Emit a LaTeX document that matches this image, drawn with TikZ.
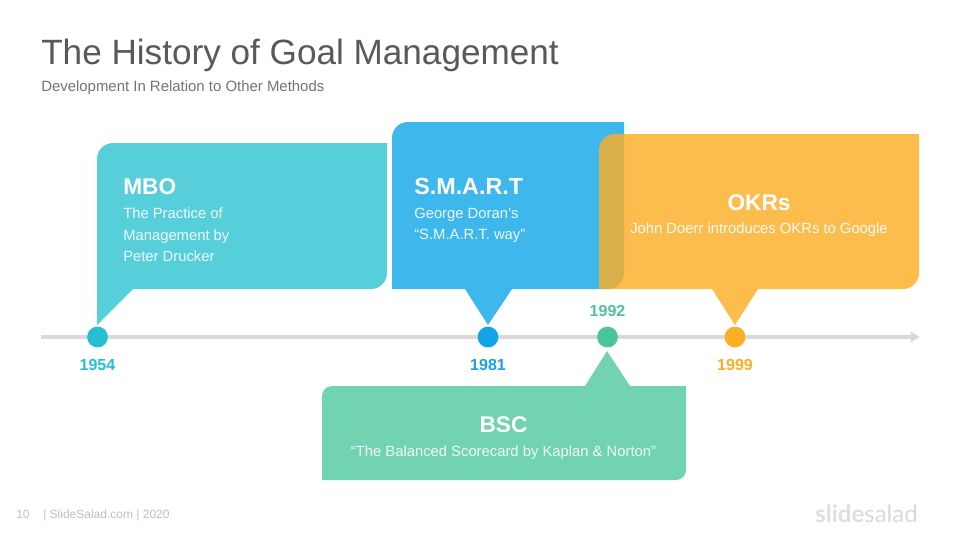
\documentclass[tikz,border=0pt]{standalone}
\usepackage{fontspec}
\setmainfont{Liberation Sans}
\newfontfamily\logofont{Lato}
\usetikzlibrary{arrows.meta}
\definecolor{cteal}{HTML}{57CFDB}
\definecolor{cblue}{HTML}{3DB7EC}
\definecolor{cgreen}{HTML}{72D3B0}
\definecolor{corange}{HTML}{FCAE24}
\definecolor{dteal}{HTML}{26BFCF}
\definecolor{dblue}{HTML}{13A4E8}
\definecolor{dgreen}{HTML}{4AC59A}
\definecolor{dorange}{HTML}{FBAF24}
\definecolor{axisgrey}{HTML}{D9D9D9}
\definecolor{titlegrey}{HTML}{595959}
\definecolor{subgrey}{HTML}{737373}
\definecolor{footgrey}{HTML}{BFBFBF}
\definecolor{softwhite}{HTML}{EFFAFC}
\definecolor{logoa}{HTML}{DEDEDE}
\definecolor{logob}{HTML}{DADADA}
\tikzset{
  x=0.75pt,y=-0.75pt,
  dotnode/.style={circle,inner sep=0pt,minimum size=15.6pt},
  yearlabel/.style={font=\fontsize{12}{12}\selectfont\bfseries,inner sep=0pt,anchor=center},
  headlabel/.style={font=\fontsize{17}{17}\selectfont\bfseries,text=white,inner sep=0pt},
  bodylabel/.style={font=\fontsize{11.1}{11.1}\selectfont,text=softwhite,inner sep=0pt},
}
\begin{document}
\begin{tikzpicture}
\useasboundingbox (0,0) rectangle (960,540);
% title
\node[font=\fontsize{26.35}{26.35}\selectfont,text=titlegrey,inner sep=0pt,anchor=base west] (title) at (41,64) {The History of Goal Management};
\node[font=\fontsize{11.2}{11.2}\selectfont,text=subgrey,inner sep=0pt,anchor=base west] (subtitle) at (41,91) {Development In Relation to Other Methods};
% axis
\coordinate (axisstart) at (41,337);
\coordinate (axisend) at (920,337);
\draw[axisgrey,line width=2.7pt,-{Triangle[length=7pt,width=7.5pt]}] (axisstart) -- (axisend);
% callouts
\fill[cteal] (97,159) arc[start angle=180,end angle=270,radius=16] -- (387,143) -- (387,273)
  arc[start angle=0,end angle=90,radius=16] -- (133,289) -- (97,325) -- cycle;
\fill[cblue] (392,138) arc[start angle=180,end angle=270,radius=16] -- (624,122) -- (624,273)
  arc[start angle=0,end angle=90,radius=16] -- (512,289) -- (488,325) -- (465,289) -- (392,289) -- cycle;
\fill[cgreen] (322,396) arc[start angle=180,end angle=270,radius=10] -- (585,386) -- (607,351) -- (630,386) -- (686,386) -- (686,470)
  arc[start angle=0,end angle=90,radius=10] -- (322,480) -- cycle;
\fill[corange,fill opacity=0.81] (599,150) arc[start angle=180,end angle=270,radius=16] -- (919,134) -- (919,273)
  arc[start angle=0,end angle=90,radius=16] -- (758,289) -- (735,325) -- (712,289) -- (599,289) -- cycle;
% dots
\node[dotnode,fill=dteal] (d1954) at (97.5,337) {};
\node[dotnode,fill=dblue] (d1981) at (488,337) {};
\node[dotnode,fill=dgreen] (d1992) at (607.5,337) {};
\node[dotnode,fill=dorange] (d1999) at (735,337) {};
% years
\node[yearlabel,text=dteal] (y1954) at (97.5,365) {1954};
\node[yearlabel,text=dblue] (y1981) at (488,365) {1981};
\node[yearlabel,text=dgreen] (y1992) at (607.5,311) {1992};
\node[yearlabel,text=dorange] (y1999) at (735,365) {1999};
% callout text
\node[headlabel,anchor=base west] (mbo) at (123,194) {MBO};
\node[bodylabel,anchor=base west] (mboa) at (123,218) {The Practice of};
\node[bodylabel,anchor=base west] (mbob) at (123,240) {Management by};
\node[bodylabel,anchor=base west] (mboc) at (123,261) {Peter Drucker};
\node[headlabel,anchor=base west,font=\fontsize{17.5}{17.5}\selectfont\bfseries] (smart) at (414,194) {S.M.A.R.T};
\node[bodylabel,anchor=base west] (smarta) at (414,218) {George Doran’s};
\node[bodylabel,anchor=base west] (smartb) at (414,239) {“S.M.A.R.T. way”};
\node[headlabel,anchor=base] (okrs) at (759,210) {OKRs};
\node[bodylabel,anchor=base] (okrsa) at (759,233) {John Doerr introduces OKRs to Google};
\node[headlabel,anchor=base] (bsc) at (503.5,432) {BSC};
\node[bodylabel,anchor=base] (bsca) at (503.5,456) {“The Balanced Scorecard by Kaplan \& Norton”};
% footer
\node[font=\fontsize{9}{9}\selectfont,text=footgrey,inner sep=0pt,anchor=base west] (pagenum) at (16,518) {10};
\node[font=\fontsize{9}{9}\selectfont,text=footgrey,inner sep=0pt,anchor=base west] (footer) at (43,518) {| SlideSalad.com | 2020};
\node[font=\logofont\fontsize{18}{18}\selectfont,inner sep=0pt,anchor=base east] (logo) at (918,522) {\textcolor{logoa}{\bfseries slide}\textcolor{logob}{salad}};
\end{tikzpicture}
\end{document}
